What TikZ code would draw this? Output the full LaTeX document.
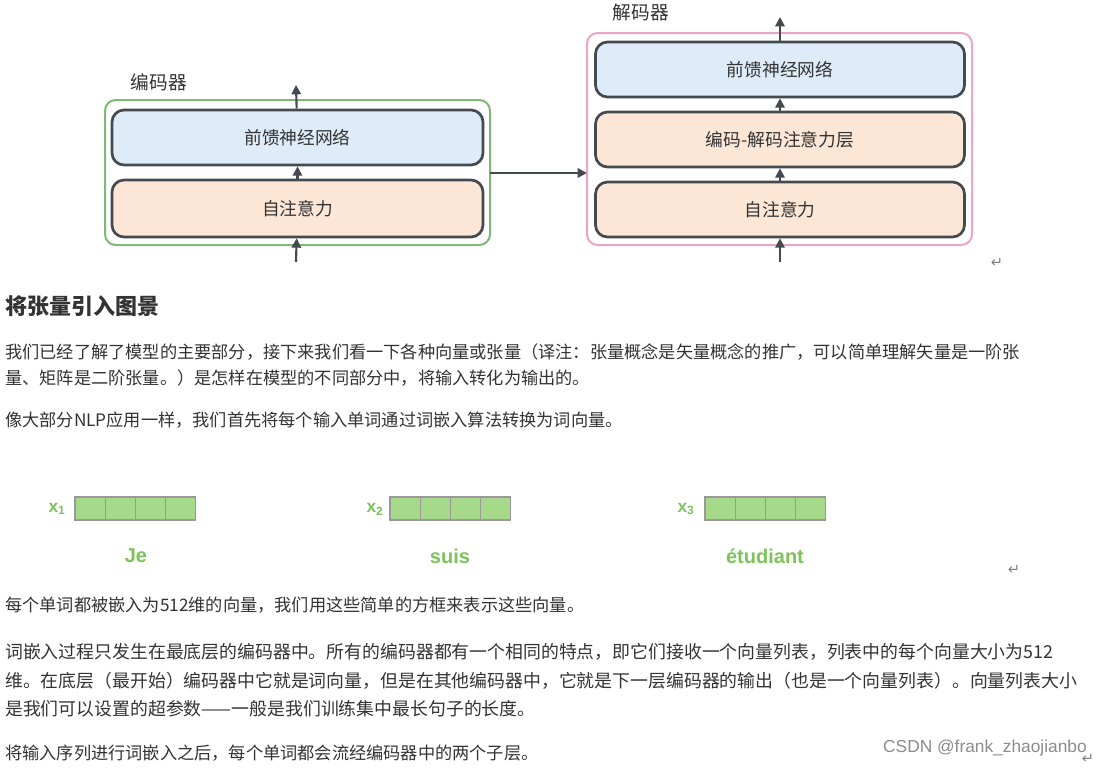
\documentclass[tikz,border=0pt]{standalone}
\usepackage{fontspec}
\setmainfont{Noto Sans CJK SC}
\newfontfamily\lat{Liberation Sans}
\newfontfamily\djv{DejaVu Sans}
\usetikzlibrary{arrows.meta}
\definecolor{blu}{HTML}{DEEBF8}
\definecolor{ora}{HTML}{FCE6D6}
\definecolor{edge}{HTML}{444A50}
\definecolor{gbox}{HTML}{82B77A}
\definecolor{pbox}{HTML}{EBA5C8}
\definecolor{vgreen}{HTML}{7CC35A}
\definecolor{vfill}{HTML}{A6D98A}
\definecolor{txt}{HTML}{333333}
\tikzset{
 layer/.style={draw=edge,line width=2pt,rounded corners=9pt,inner sep=0},
 outer/.style={line width=1.5pt,rounded corners=8pt},
 arr/.style={-{Triangle[length=7pt,width=7pt]},line width=1.6pt,draw=edge},
 para/.style={anchor=west,inner sep=0,font=\fontsize{12.9}{15}\selectfont,text=txt},
 lab/.style={font=\fontsize{13.3}{15}\selectfont,text=txt},
 cell/.style={draw=gray!80,fill=vfill,minimum width=30.2*0.75pt,minimum height=23*0.75pt,inner sep=0,line width=0.8pt},
 xl/.style={font=\lat\bfseries\fontsize{13}{14}\selectfont,text=vgreen},
 wd/.style={font=\lat\bfseries\fontsize{15}{16}\selectfont,text=vgreen},
 ret/.style={font=\djv\fontsize{11}{12}\selectfont,text=gray}
}
\begin{document}
\begin{tikzpicture}[x=0.75pt,y=-0.75pt]
\useasboundingbox[fill=white] (0,0) rectangle (1101,768);
% encoder
\draw[outer,draw=gbox] (105,100) rectangle (490,245);
\node[layer,fill=blu,minimum width=371*0.75pt,minimum height=55*0.75pt] (eff) at (297.5,137.5) {};
\node[lab] at (eff) {前馈神经网络};
\node[layer,fill=ora,minimum width=371*0.75pt,minimum height=57*0.75pt] (esa) at (297.5,208.5) {};
\node[lab] at (esa) {自注意力};
\node[lab,anchor=west,font=\fontsize{14}{15}\selectfont] (elab) at (126,82) {编码器};
\coordinate (ein) at (296,262);
\coordinate (eout) at (296,85);
\draw[arr] (ein) -- (esa);
\draw[arr] (esa) -- (eff);
\draw[arr] (eff) -- (eout);
% decoder
\draw[outer,draw=pbox] (587,33) rectangle (972,245);
\node[layer,fill=blu,minimum width=369*0.75pt,minimum height=55*0.75pt] (dff) at (780,69.5) {};
\node[lab] at (dff) {前馈神经网络};
\node[layer,fill=ora,minimum width=369*0.75pt,minimum height=55*0.75pt] (ded) at (780,139.5) {};
\node[lab] at (ded) {编码-解码注意力层};
\node[layer,fill=ora,minimum width=369*0.75pt,minimum height=55*0.75pt] (dsa) at (780,209.5) {};
\node[lab] at (dsa) {自注意力};
\node[lab,anchor=west,font=\fontsize{14}{15}\selectfont] (dlab) at (608,12) {解码器};
\coordinate (din) at (780,262);
\coordinate (dout) at (780,17);
\draw[arr] (din) -- (dsa);
\draw[arr] (dsa) -- (ded);
\draw[arr] (ded) -- (dff);
\draw[arr] (dff) -- (dout);
\coordinate (ec) at (490,173);
\coordinate (dc) at (587,173);
\draw[arr] (ec) -- (dc);
\node[ret] at (997,263) {↵};
% text
\node[anchor=west,inner sep=0,font=\bfseries\fontsize{16.5}{18}\selectfont,text=txt] at (5,306) {将张量引入图景};
\node[para] at (5,352) {我们已经了解了模型的主要部分，接下来我们看一下各种向量或张量（译注：张量概念是矢量概念的推广，可以简单理解矢量是一阶张};
\node[para] at (5,378) {量、矩阵是二阶张量。）是怎样在模型的不同部分中，将输入转化为输出的。};
\node[para] at (5,420) {像大部分NLP应用一样，我们首先将每个输入单词通过词嵌入算法转换为词向量。};
% vectors
\foreach \n/\x/\lx/\w/\wx in {1/75/57/Je/136,2/390/375/suis/450,3/705/686/étudiant/765}{
 \foreach \k in {0,1,2,3}{\node[cell] (v\n\k) at ({\x+15.1+30.2*\k},508.5) {};}
 \node[xl] (x\n) at (\lx,509) {x\textsubscript{\fontsize{9}{9}\selectfont\n}};
 \node[wd] (w\n) at (\wx,556) {\w};
}
\node[ret] at (1014,570) {↵};
\node[para] at (5,605) {每个单词都被嵌入为512维的向量，我们用这些简单的方框来表示这些向量。};
\node[para,font=\fontsize{13.4}{15}\selectfont] at (5,652) {词嵌入过程只发生在最底层的编码器中。所有的编码器都有一个相同的特点，即它们接收一个向量列表，列表中的每个向量大小为512};
\node[para,font=\fontsize{13.4}{15}\selectfont] at (5,681) {维。在底层（最开始）编码器中它就是词向量，但是在其他编码器中，它就是下一层编码器的输出（也是一个向量列表）。向量列表大小};
\node[para,font=\fontsize{13.4}{15}\selectfont] at (5,709) {是我们可以设置的超参数——一般是我们训练集中最长句子的长度。};
\node[para] at (5,753) {将输入序列进行词嵌入之后，每个单词都会流经编码器中的两个子层。};
\node[anchor=east,inner sep=0,font=\lat\fontsize{13}{14}\selectfont,text=gray!90] at (1087,748) {CSDN @frank\_zhaojianbo};
\node[ret] at (1088,759) {↵};
\end{tikzpicture}
\end{document}
